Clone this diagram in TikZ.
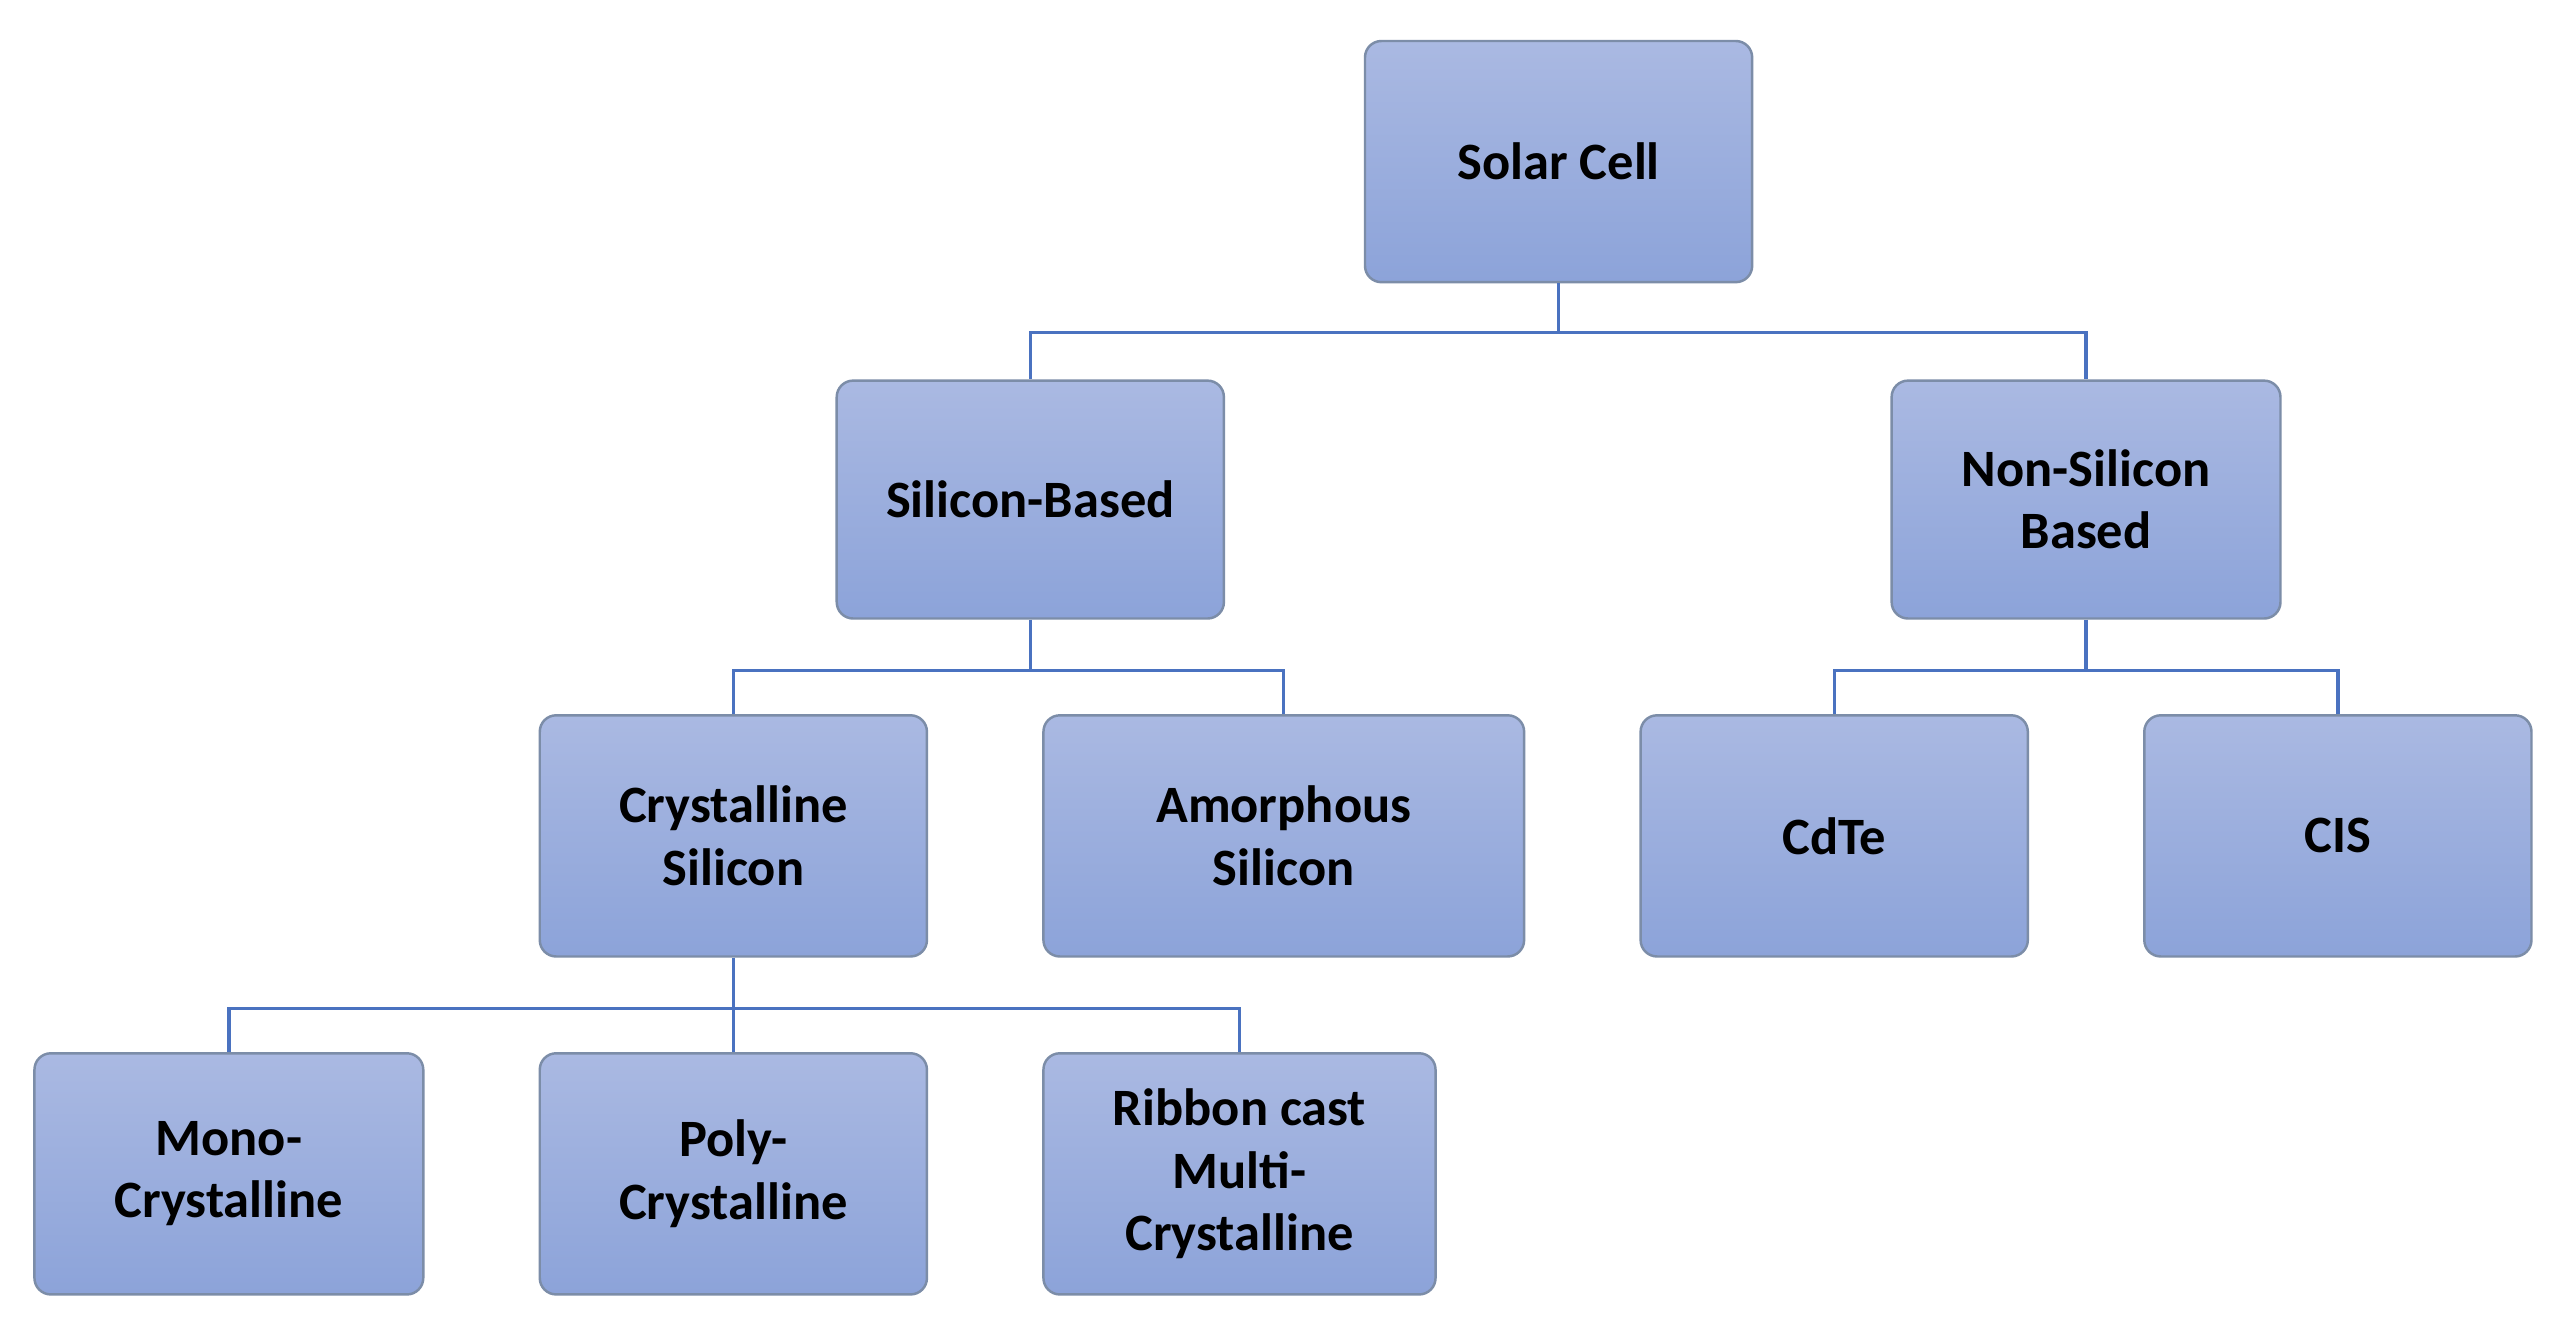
\documentclass[tikz,border=0pt]{standalone}
\usepackage{fontspec}
\setmainfont{Carlito}
\usetikzlibrary{positioning}
\definecolor{boxtop}{HTML}{AAB9E2}
\definecolor{boxbot}{HTML}{8CA3D9}
\definecolor{boxline}{HTML}{7C8DA8}
\definecolor{conn}{HTML}{4A72C0}
\begin{document}
\begin{tikzpicture}[x=1pt,y=-1pt,
  box/.style={draw=boxline,line width=1.5pt,rounded corners=10pt,top color=boxtop,bottom color=boxbot,
    align=center,font=\fontsize{32}{38}\selectfont\bfseries,text=black,inner sep=0pt},
  link/.style={draw=conn,line width=2pt}]
\fill[white] (0,0) rectangle (1561,818);
\useasboundingbox (0,0) rectangle (1561,818);
\newcommand{\bx}[6]{\node[box,minimum width={#4-#2},minimum height={#5-#3}] (#1) at ({(#2+#4)/2},{(#3+#5)/2}) {#6};}
\bx{solar}{832}{25}{1068}{172}{Solar Cell}
\bx{sib}{510}{232}{746}{377}{Silicon-Based}
\bx{nsb}{1153}{232}{1390}{377}{Non-Silicon\\Based}
\bx{cry}{329}{436}{565}{583}{Crystalline\\Silicon}
\bx{amo}{636}{436}{929}{583}{Amorphous\\Silicon}
\bx{cdte}{1000}{436}{1236}{583}{CdTe}
\bx{cis}{1307}{436}{1543}{583}{CIS}
\bx{mono}{21}{642}{258}{789}{Mono-\\Crystalline}
\bx{poly}{329}{642}{565}{789}{Poly-\\Crystalline}
\bx{rib}{636}{642}{875}{789}{Ribbon cast\\Multi-\\Crystalline}
\draw[link] (solar.south) -- ++(0,30) -| (sib.north);
\draw[link] (solar.south) ++(0,30) -| (nsb.north);
\draw[link] (sib.south) -- ++(0,31) -| (cry.north);
\draw[link] (sib.south) ++(0,31) -| (amo.north);
\draw[link] (nsb.south) -- ++(0,31) -| (cdte.north);
\draw[link] (nsb.south) ++(0,31) -| (cis.north);
\draw[link] (cry.south) -- (poly.north);
\draw[link] (cry.south) ++(0,31) -| (mono.north);
\draw[link] (cry.south) ++(0,31) -| (rib.north);
\end{tikzpicture}
\end{document}
